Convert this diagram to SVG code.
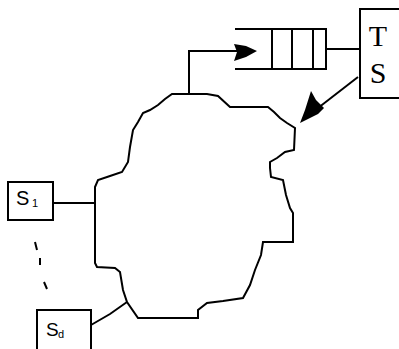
<svg xmlns="http://www.w3.org/2000/svg" width="399" height="349" viewBox="0 0 399 349">
<style>
.ln{fill:none;stroke:#000;stroke-width:2;stroke-linejoin:miter}
.bx{fill:#fff;stroke:#000;stroke-width:2}
.hd{fill:#000;stroke:none}
.serif{font-family:"Liberation Serif","DejaVu Serif",serif;fill:#000}
.sans{font-family:"Liberation Sans","DejaVu Sans",sans-serif;fill:#000}
</style>
<rect width="399" height="349" fill="#fff"/>
<g id="network">
<path class="ln" d="M172,94 L207,94 L218,96 L230,107 L268,107 L274,112 L280,118 L287,123 L295,128 L294,150 L285,152 L277,158 L270,162 L270,168 L271,177 L283,180 L286,195 L290,208 L293,213 L293,242 L263,242 L261,255 L255,270 L250,285 L243,298 L223,301 L207,303 L198,310 L198,318 L138,318 L127,302 L123,290 L120,272 L115,268 L97,267 L95,263 L95,187 L98,180 L110,176 L122,172 L128,162 L130,147 L133,130 L138,122 L143,113 L150,110 L158,105 L165,99 Z"/>
</g>
<g id="queue">
<path class="ln" d="M235,29 L326,29 L326,69 L235,69"/>
<path class="ln" d="M272,29 L272,69 M292,29 L292,69 M313,29 L313,69"/>
</g>
<g id="TS">
<rect class="bx" x="360" y="9" width="50" height="89"/>
<text class="serif" x="378" y="46" font-size="30" text-anchor="middle">T</text>
<text class="serif" x="378" y="83" font-size="30" text-anchor="middle">S</text>
</g>
<g id="S1">
<rect class="bx" x="8" y="182" width="45" height="38"/>
<text class="sans" x="16" y="205" font-size="20">S</text>
<text class="sans" x="32" y="207" font-size="11">1</text>
</g>
<g id="Sd">
<rect class="bx" x="37" y="310" width="54" height="50"/>
<text class="sans" x="46" y="336" font-size="19">S</text>
<text class="sans" x="58" y="338" font-size="11">d</text>
</g>
<g id="connectors">
<path class="ln" d="M189,94 L189,51 L240,51"/>
<polygon class="hd" points="234,44 246,46 257,51 246,57 234,61 237,52"/>
<path class="ln" d="M326,49 L360,49"/>
<path class="ln" d="M358,77 L318,108" stroke-width="1.5"/>
<polygon class="hd" points="311,91 316,100 324,108 318,114 300,123 305,110"/>
<path class="ln" d="M53,203 L95,203"/>
<path class="ln" d="M91,325 L110,314 L127,302"/>
<path class="ln" d="M35,242 L37,250 M40,258 L40,265 M44,282 L47,289" stroke-width="1.5"/>
</g>
</svg>
